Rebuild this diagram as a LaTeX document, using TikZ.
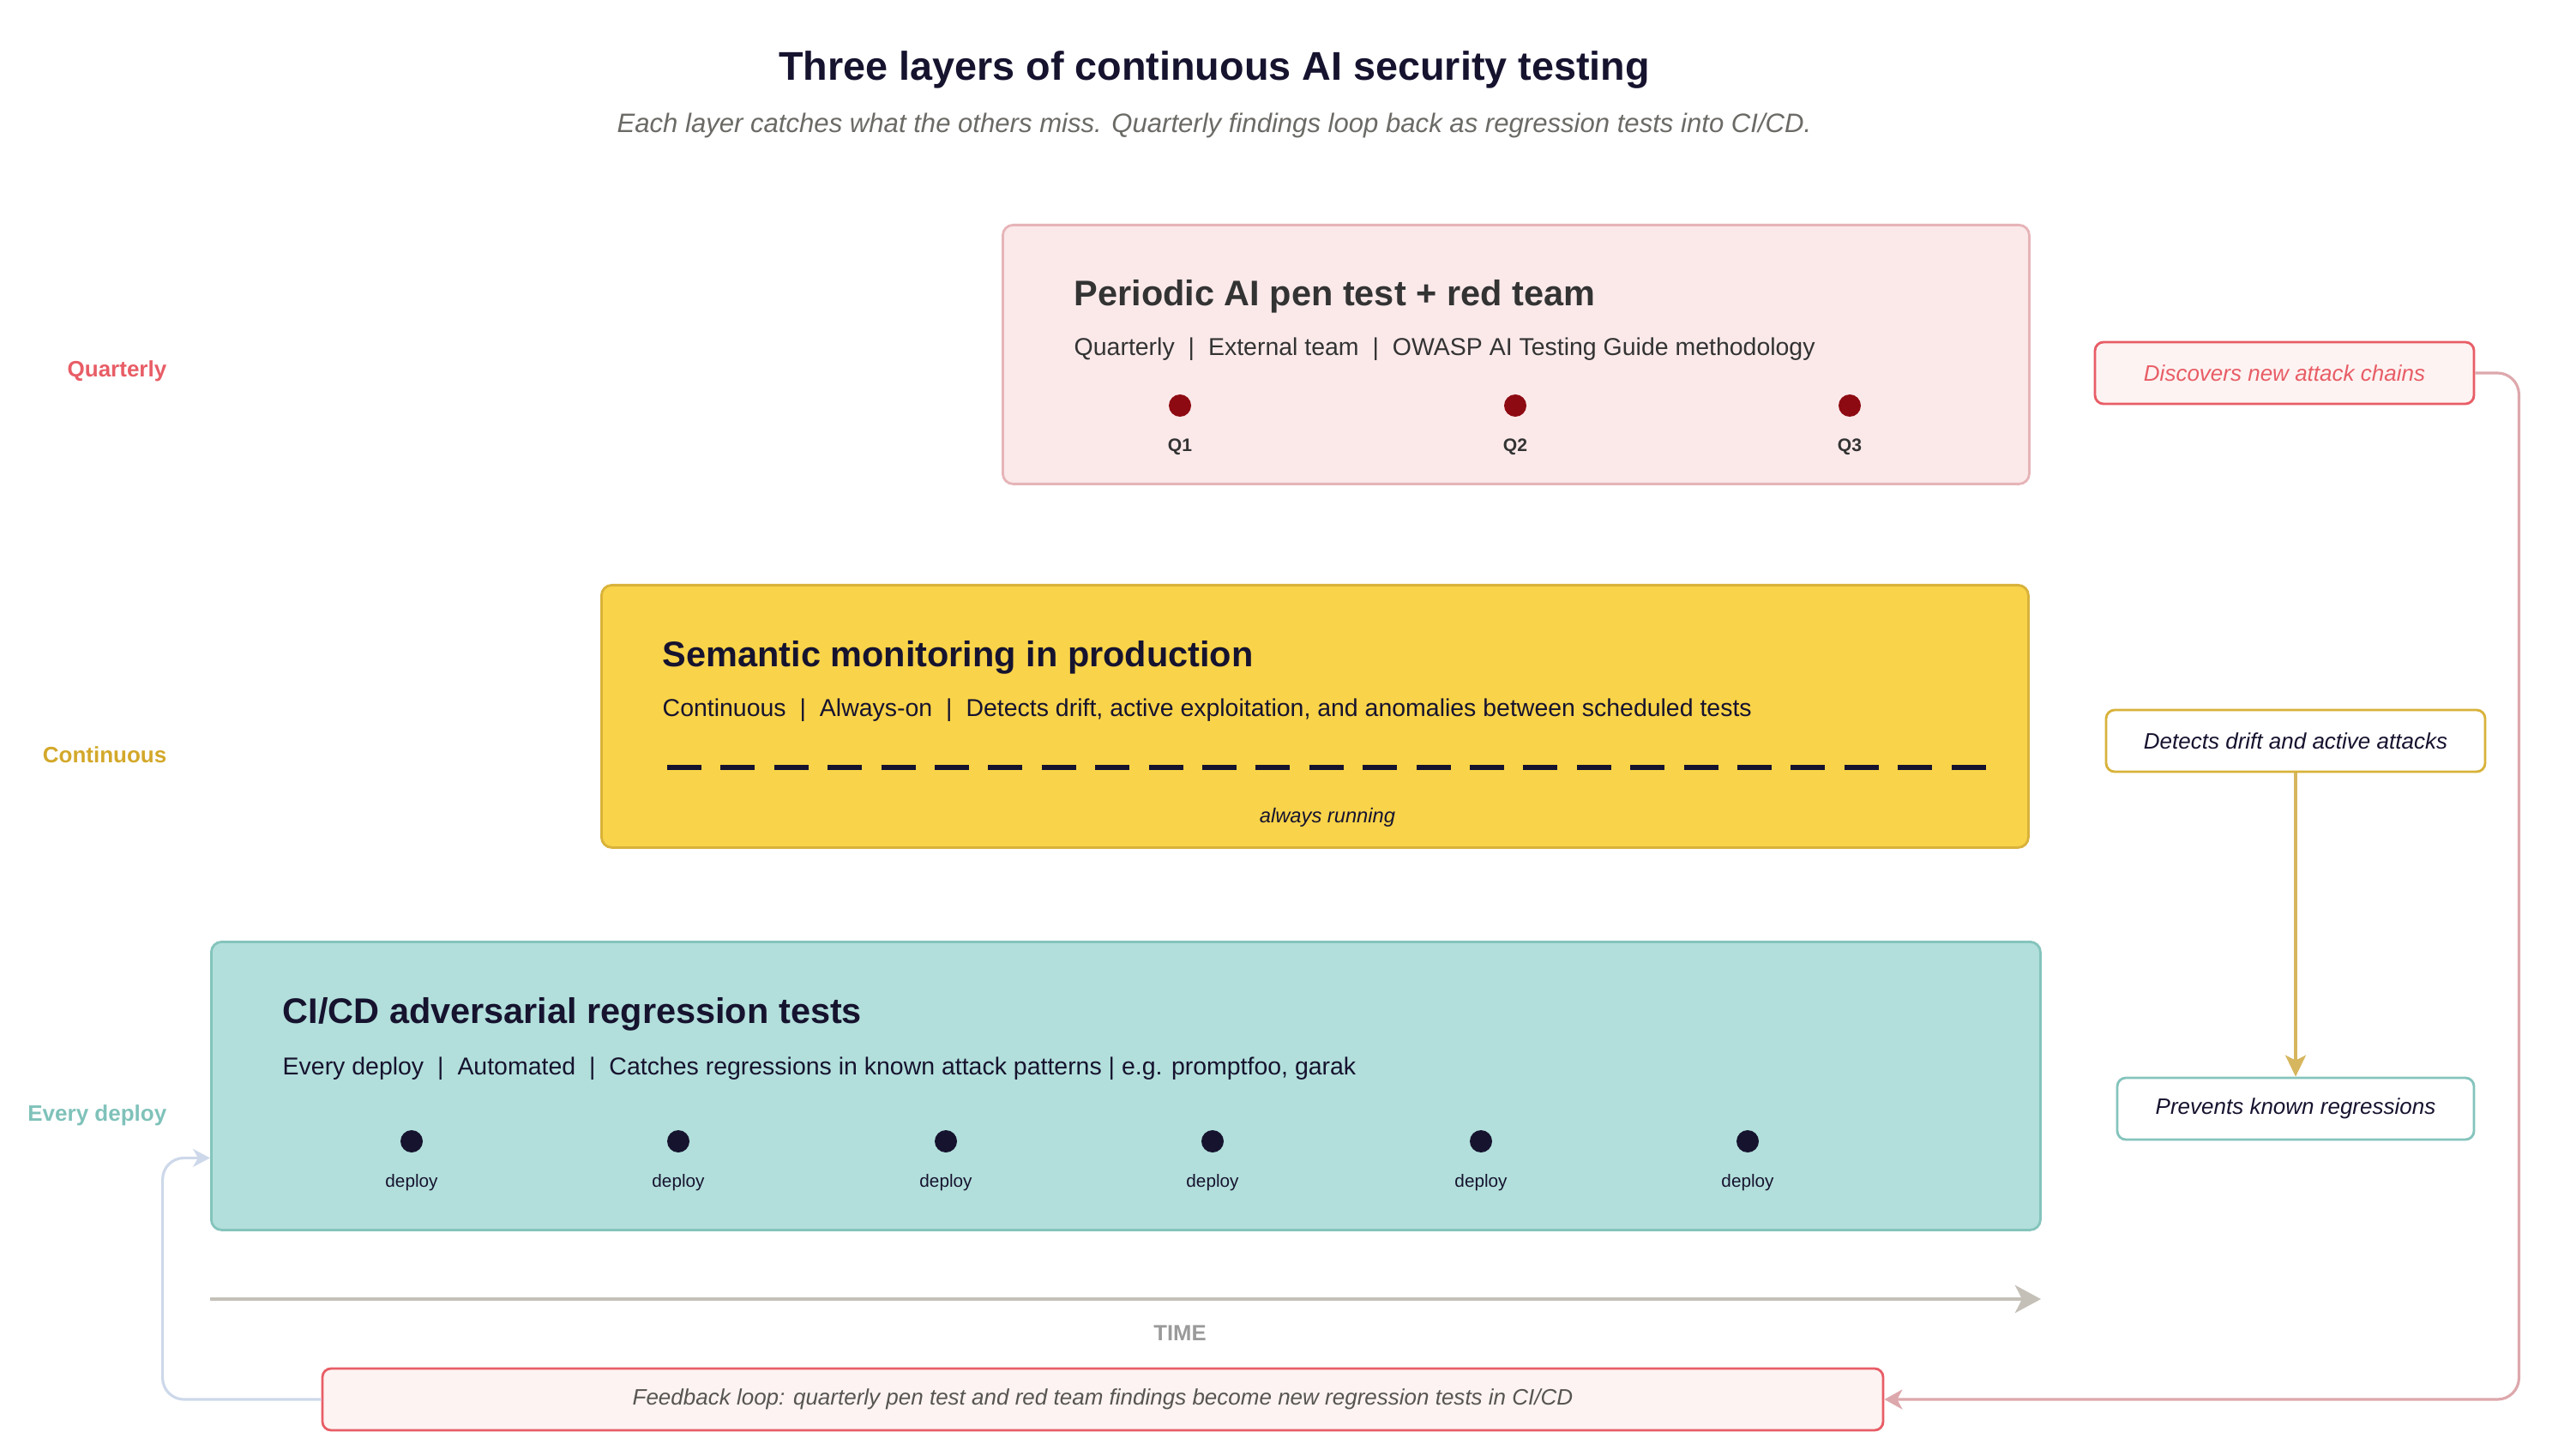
\documentclass[tikz,border=0pt]{standalone}
\usepackage{fontspec}
\setmainfont{Liberation Sans}
\usetikzlibrary{arrows.meta,calc}
\definecolor{ink}{HTML}{16132F}
\definecolor{qfill}{HTML}{FBE9EA}
\definecolor{qline}{HTML}{E6B4B7}
\definecolor{dotred}{HTML}{8E0A12}
\definecolor{sfill}{HTML}{F9D349}
\definecolor{sline}{HTML}{D8B23A}
\definecolor{cfill}{HTML}{B2DFDB}
\definecolor{cline}{HTML}{84C4BC}
\definecolor{redtx}{HTML}{E85D66}
\definecolor{goldtx}{HTML}{D3A82A}
\definecolor{tealtx}{HTML}{7FC2BA}
\definecolor{pinkbg}{HTML}{FDF3F2}
\definecolor{loopblue}{HTML}{CDD8EA}
\definecolor{looppink}{HTML}{DDA8AC}
\definecolor{arrgold}{HTML}{D6B65E}
\definecolor{timeline}{HTML}{C4C0B8}
\definecolor{timetx}{HTML}{9A9A9A}
\definecolor{greytx}{HTML}{6B6A66}
\newcommand{\fsz}[1]{\fontsize{#1}{#1}\selectfont}
\newcommand{\barsep}{\hspace{0.56em}|\hspace{0.56em}}
\tikzset{
  layer/.style={draw, rounded corners=0.12cm, line width=0.8pt, anchor=north west, inner sep=0pt},
  ttl/.style={anchor=base west, inner sep=0pt, font=\bfseries\fsz{11.8}, text=ink},
  subline/.style={anchor=base west, inner sep=0pt, font=\fsz{8.1}, text=ink},
  rate/.style={anchor=base east, inner sep=0pt, font=\bfseries\fsz{7.4}},
  note/.style={draw, rounded corners=0.1cm, line width=0.8pt, minimum height=0.72cm, inner sep=0pt, font=\itshape\fsz{7.4}},
  qmark/.style={circle, fill=dotred, inner sep=0pt, minimum size=0.26cm},
  dmark/.style={circle, fill=ink, inner sep=0pt, minimum size=0.26cm},
}
\begin{document}
\begin{tikzpicture}[x=1cm, y=-1cm]
  \useasboundingbox (0,0) rectangle (29.76,16.98);
  \node[anchor=base, font=\bfseries\fsz{13.3}, text=ink] (title) at (14.16,0.94) {Three layers of continuous AI security testing};
  \node[anchor=base, font=\itshape\fsz{8.85}, text=greytx] (subtitle) at (14.16,1.55) {Each layer catches what the others miss. Quarterly findings loop back as regression tests into CI/CD.};

  \node[rate, text=redtx] (rq) at (1.95,4.40) {Quarterly};
  \node[rate, text=goldtx] (rs) at (1.95,8.90) {Continuous};
  \node[rate, text=tealtx] (rc) at (1.95,13.07) {Every deploy};

  \node[layer, fill=qfill, draw=qline, minimum width=11.97cm, minimum height=3.02cm] (qbox) at (11.68,2.61) {};
  \node[ttl, text=black!80] (qtitle) at (12.52,3.57) {Periodic AI pen test + red team};
  \node[subline, text=black!80] (qsub) at (12.52,4.15) {Quarterly\barsep External team\barsep OWASP AI Testing Guide methodology};
  \foreach \x [count=\i] in {13.76,17.67,21.57} {
    \node[qmark] (q\i) at (\x,4.73) {};
    \node[anchor=base, font=\bfseries\fsz{6}, text=black!80] (ql\i) at (\x,5.27) {Q\i};
  }

  \node[layer, fill=sfill, draw=sline, minimum width=16.64cm, minimum height=3.06cm] (sbox) at (7.00,6.81) {};
  \node[ttl] (stitle) at (7.72,7.78) {Semantic monitoring in production};
  \node[subline] (ssub) at (7.72,8.35) {Continuous\barsep Always-on\barsep Detects drift, active exploitation, and anomalies between scheduled tests};
  \draw[ink, line width=1.7pt, dash pattern=on 0.40cm off 0.224cm] (7.78,8.95) -- (23.18,8.95);
  \node[anchor=base, font=\itshape\fsz{6.75}, text=ink] (srun) at (15.48,9.59) {always running};

  \node[layer, fill=cfill, draw=cline, minimum width=21.33cm, minimum height=3.36cm] (cbox) at (2.45,10.97) {};
  \node[ttl] (ctitle) at (3.29,11.93) {CI/CD adversarial regression tests};
  \node[subline] (csub) at (3.29,12.53) {Every deploy\barsep Automated\barsep Catches regressions in known attack patterns | e.g. promptfoo, garak};
  \foreach \x [count=\i] in {4.80,7.91,11.03,14.14,17.27,20.38} {
    \node[dmark] (d\i) at (\x,13.31) {};
    \node[anchor=base, font=\fsz{5.9}, text=ink] (dl\i) at (\x,13.84) {deploy};
  }

  \coordinate (t0) at (2.45,15.15);
  \coordinate (t1) at (23.80,15.15);
  \draw[timeline, line width=1.4pt, -{Stealth[length=0.3cm, width=0.32cm, inset=0.08cm]}] (t0) -- (t1);
  \node[anchor=base, font=\bfseries\fsz{7.3}, text=timetx] (time) at (13.76,15.63) {TIME};

  \node[note, draw=redtx, fill=pinkbg, text=greytx!80!black, minimum width=18.20cm] (fb) at (12.86,16.32) {Feedback loop: quarterly pen test and red team findings become new regression tests in CI/CD};

  \node[note, draw=redtx, fill=pinkbg, text=redtx, minimum width=4.42cm] (disc) at (26.64,4.35) {Discovers new attack chains};
  \node[note, draw=sline, fill=white, text=ink, minimum width=4.42cm] (det) at (26.77,8.64) {Detects drift and active attacks};
  \node[note, draw=cline, fill=white, text=ink, minimum width=4.16cm] (prev) at (26.77,12.93) {Prevents known regressions};

  \draw[arrgold, line width=0.9pt, -{Stealth[length=0.25cm, width=0.24cm, inset=0.06cm]}] (det.south) -- (prev.north);
  \draw[looppink, line width=0.9pt, rounded corners=0.25cm, -{Stealth[length=0.21cm, width=0.23cm, inset=0.06cm]}] (disc.east) -- ++(0.51,0) |- (fb.east);
  \draw[loopblue, line width=0.9pt, rounded corners=0.25cm, -{Stealth[length=0.2cm, width=0.21cm, inset=0.06cm]}] (fb.west) -- ++(-1.85,0) |- ($(cbox.west)+(0,0.84)$);
\end{tikzpicture}
\end{document}
